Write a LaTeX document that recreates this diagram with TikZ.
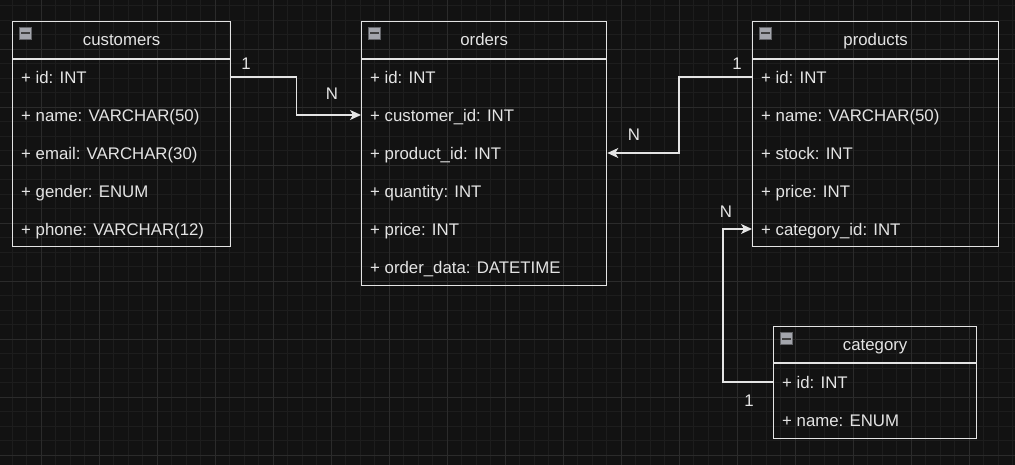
\documentclass[tikz,border=0pt]{standalone}
\usepackage{fontspec}
\setmainfont{Liberation Sans}
\usetikzlibrary{arrows.meta}

\definecolor{canvas}{HTML}{121212}
\definecolor{gridminor}{HTML}{1D1D1D}
\definecolor{gridmajor}{HTML}{2B2B2B}
\definecolor{ink}{HTML}{E4E4E4}
\definecolor{iconfill}{HTML}{A3A5AC}

\tikzset{
  tbl/.style={draw=ink, line width=1.3pt, anchor=north west, inner sep=0pt},
  sep/.style={draw=ink, line width=1.3pt},
  title/.style={text=ink, font=\fontsize{16.8}{18}\selectfont, anchor=base, inner sep=0pt},
  field/.style={text=ink, font=\fontsize{16.8}{18}\selectfont, anchor=base west, inner sep=0pt},
  icon/.style={fill=iconfill, draw=iconfill!60!black, minimum size=12pt, inner sep=0pt},
  link/.style={draw=ink, line width=1.3pt, -{Stealth[length=11pt, width=10pt, inset=3pt]}},
  card/.style={text=ink, font=\fontsize{16.8}{18}\selectfont, inner sep=0pt}
}

\begin{document}
\begin{tikzpicture}[x=1pt, y=-1pt]
  \useasboundingbox (0,0) rectangle (1015,465);
  \fill[canvas] (0,0) rectangle (1015,465);
  % grid
  \begin{scope}
    \clip (0,0) rectangle (1015,465);
    \foreach \i in {0,...,70} {
      \draw[gridminor, line width=0.8pt] ({-2.5+14.5*\i},0) -- ++(0,465);
    }
    \foreach \i in {0,...,32} {
      \draw[gridminor, line width=0.8pt] (0,{5.8+14.5*\i}) -- ++(1015,0);
    }
    \foreach \i in {0,...,18} {
      \draw[gridmajor, line width=0.9pt] ({-17+58*\i},0) -- ++(0,465);
    }
    \foreach \i in {0,...,8} {
      \draw[gridmajor, line width=0.9pt] (0,{-8.7+58*\i}) -- ++(1015,0);
    }
  \end{scope}

  % customers
  \node[tbl, minimum width=218pt, minimum height=225pt] (cust) at (12,21) {};
  \draw[sep] ([yshift=-38pt]cust.north west) -- ([yshift=-38pt]cust.north east);
  \node[title] (cust-title) at ([yshift=-24.5pt]cust.north) {customers};
  \node[icon] (cust-icon) at ([xshift=13.5pt, yshift=-12.5pt]cust.north west) {};
  \fill[black!75] ([xshift=2pt, yshift=-1pt]cust-icon.west) rectangle ([xshift=-2pt, yshift=1pt]cust-icon.east);
  \foreach \f [count=\i] in {{+ id: INT}, {+ name: VARCHAR(50)}, {+ email: VARCHAR(30)},
      {+ gender: ENUM}, {+ phone: VARCHAR(12)}} {
    \coordinate (cust-r\i) at (21,{77+38*(\i-1)});
    \node[field] (cust-\i) at (21,{83.5+38*(\i-1)}) {\f};
  }

  % orders
  \node[tbl, minimum width=245pt, minimum height=264pt] (ord) at (361,21) {};
  \draw[sep] ([yshift=-38pt]ord.north west) -- ([yshift=-38pt]ord.north east);
  \node[title] (ord-title) at ([yshift=-24.5pt]ord.north) {orders};
  \node[icon] (ord-icon) at ([xshift=13.5pt, yshift=-12.5pt]ord.north west) {};
  \fill[black!75] ([xshift=2pt, yshift=-1pt]ord-icon.west) rectangle ([xshift=-2pt, yshift=1pt]ord-icon.east);
  \foreach \f [count=\i] in {{+ id: INT}, {+ customer\_id: INT}, {+ product\_id: INT},
      {+ quantity: INT}, {+ price: INT}, {+ order\_data: DATETIME}} {
    \coordinate (ord-r\i) at (370,{77+38*(\i-1)});
    \node[field] (ord-\i) at (370,{83.5+38*(\i-1)}) {\f};
  }

  % products
  \node[tbl, minimum width=246pt, minimum height=225pt] (prod) at (752,21) {};
  \draw[sep] ([yshift=-38pt]prod.north west) -- ([yshift=-38pt]prod.north east);
  \node[title] (prod-title) at ([yshift=-24.5pt]prod.north) {products};
  \node[icon] (prod-icon) at ([xshift=13.5pt, yshift=-12.5pt]prod.north west) {};
  \fill[black!75] ([xshift=2pt, yshift=-1pt]prod-icon.west) rectangle ([xshift=-2pt, yshift=1pt]prod-icon.east);
  \foreach \f [count=\i] in {{+ id: INT}, {+ name: VARCHAR(50)}, {+ stock: INT},
      {+ price: INT}, {+ category\_id: INT}} {
    \coordinate (prod-r\i) at (761,{77+38*(\i-1)});
    \node[field] (prod-\i) at (761,{83.5+38*(\i-1)}) {\f};
  }

  % category
  \node[tbl, minimum width=203pt, minimum height=112pt] (cat) at (773,326) {};
  \draw[sep] ([yshift=-37pt]cat.north west) -- ([yshift=-37pt]cat.north east);
  \node[title] (cat-title) at ([yshift=-24pt]cat.north) {category};
  \node[icon] (cat-icon) at ([xshift=13.5pt, yshift=-12.5pt]cat.north west) {};
  \fill[black!75] ([xshift=2pt, yshift=-1pt]cat-icon.west) rectangle ([xshift=-2pt, yshift=1pt]cat-icon.east);
  \foreach \f [count=\i] in {{+ id: INT}, {+ name: ENUM}} {
    \coordinate (cat-r\i) at (782,{382+38*(\i-1)});
    \node[field] (cat-\i) at (782,{388.5+38*(\i-1)}) {\f};
  }

  % relations
  \draw[link] (cust.east |- cust-r1) -- ++(65,0) |- (ord.west |- ord-r2);
  \node[card] (c1) at (246,64) {1};
  \node[card] (cN) at (332,94) {N};

  \draw[link] (prod.west |- prod-r1) -- ++(-73,0) |- (ord.east |- ord-r3);
  \node[card] (p1) at (737,64) {1};
  \node[card] (pN) at (634,135) {N};

  \draw[link] (cat.west |- cat-r1) -- ++(-50,0) |- (prod.west |- prod-r5);
  \node[card] (k1) at (749,401) {1};
  \node[card] (kN) at (726,212) {N};
\end{tikzpicture}
\end{document}
